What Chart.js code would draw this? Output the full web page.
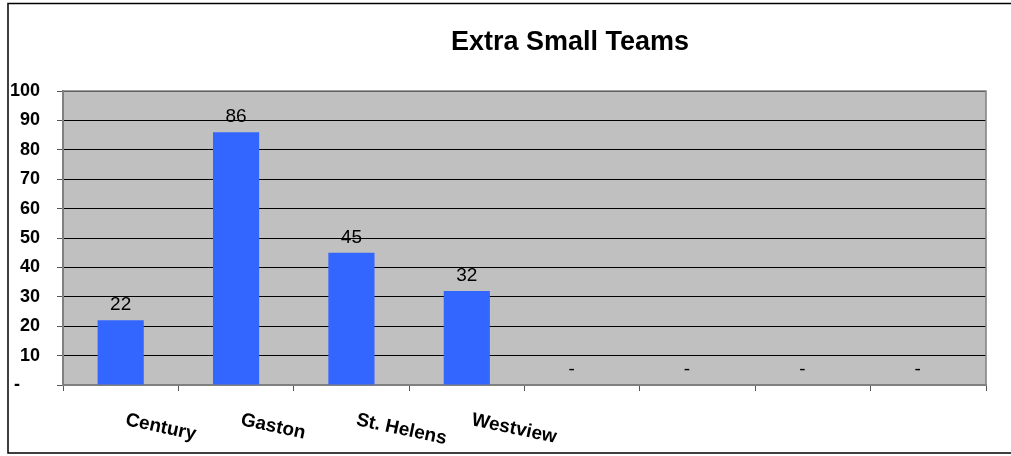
<!DOCTYPE html>
<html>
<head>
<meta charset="utf-8">
<script src="https://cdn.jsdelivr.net/npm/chart.js@4"></script>
<style>
  html, body { margin: 0; padding: 0; background: #fff; }
  #wrap { position: relative; width: 1011px; height: 456px; }
</style>
</head>
<body>
<div id="wrap"><canvas id="c" width="1011" height="456"></canvas></div>
<script>
  // --- data -----------------------------------------------------------------
  var TITLE = "Extra Small Teams";
  var TEAMS = ["Century", "Gaston", "St. Helens", "Westview", "", "", "", ""];
  var SCORES = [22, 86, 45, 32, 0, 0, 0, 0];
  var Y_MIN = 0, Y_MAX = 100, Y_STEP = 10;

  var FONT = "Arial, 'Liberation Sans', Helvetica, sans-serif";
  var PLOT_BG = "#c0c0c0";
  var BAR = "#3366ff";
  var FRAME = "#808080";

  // zero shows as "-" (accounting style, padded on the right)
  function fmt(v) { return v === 0 ? "-    " : "" + v; }

  // plot background, outer frame, title, value labels and slanted team names
  var decor = {
    id: "decor",
    beforeDraw: function (chart) {
      var c = chart.ctx, a = chart.chartArea;
      c.save();
      c.fillStyle = "#fff";
      c.fillRect(0, 0, chart.width, chart.height);
      c.fillStyle = PLOT_BG;
      c.fillRect(a.left, a.top, a.right - a.left, a.bottom - a.top);
      c.restore();
    },
    afterDraw: function (chart) {
      var c = chart.ctx, a = chart.chartArea;
      var xs = chart.scales.x, ys = chart.scales.y;
      c.save();
      // plot edge top/right
      c.strokeStyle = FRAME; c.lineWidth = 1.5;
      c.beginPath();
      c.moveTo(a.left, a.top); c.lineTo(a.right, a.top); c.lineTo(a.right, a.bottom);
      c.stroke();
      // outer chart frame (left, top, bottom)
      c.strokeStyle = "#000"; c.lineWidth = 1.5;
      c.beginPath();
      c.moveTo(chart.width, 3.5); c.lineTo(8, 3.5); c.lineTo(8, 453); c.lineTo(chart.width, 453);
      c.stroke();
      // title
      c.fillStyle = "#000";
      c.font = "bold 27px " + FONT;
      c.textAlign = "center"; c.textBaseline = "alphabetic";
      c.fillText(TITLE, 570, 50);
      // value labels over bars
      c.font = "19px " + FONT;
      SCORES.forEach(function (v, i) {
        c.fillText(fmt(v), xs.getPixelForValue(i), ys.getPixelForValue(v) - 10);
      });
      // team names, slanted
      c.font = "bold 19px " + FONT;
      c.textAlign = "left";
      TEAMS.forEach(function (t, i) {
        if (!t) return;
        c.save();
        c.translate(xs.getPixelForValue(i) + 4, 425);
        c.rotate(12 * Math.PI / 180);
        c.fillText(t, 0, 0);
        c.restore();
      });
      c.restore();
    }
  };

  new Chart(document.getElementById("c"), {
    type: "bar",
    data: {
      labels: TEAMS,
      datasets: [{ data: SCORES, backgroundColor: BAR, borderWidth: 0,
        categoryPercentage: 1.0, barPercentage: 0.4 }]
    },
    options: {
      responsive: false, animation: false, devicePixelRatio: 1,
      layout: { padding: { top: 91, right: 25, left: 0, bottom: 0 } },
      plugins: { legend: { display: false }, tooltip: { enabled: false } },
      scales: {
        x: {
          offset: true,
          grid: { offset: true, drawOnChartArea: false, drawTicks: true,
            tickLength: 6, color: "#555" },
          border: { color: FRAME, width: 2 },
          ticks: { display: false },
          afterFit: function (s) { s.height = 71; }
        },
        y: {
          min: Y_MIN, max: Y_MAX,
          ticks: { stepSize: Y_STEP, color: "#000", padding: 17,
            font: { family: FONT, size: 18, weight: "bold" },
            callback: function (v) { return v === 0 ? "-    " : "" + v; } },
          grid: { color: "#000", lineWidth: 1, tickLength: 6, tickColor: "#555" },
          border: { color: FRAME, width: 2 },
          afterFit: function (s) { s.width = 63; }
        }
      }
    },
    plugins: [decor]
  });
</script>
</body>
</html>
